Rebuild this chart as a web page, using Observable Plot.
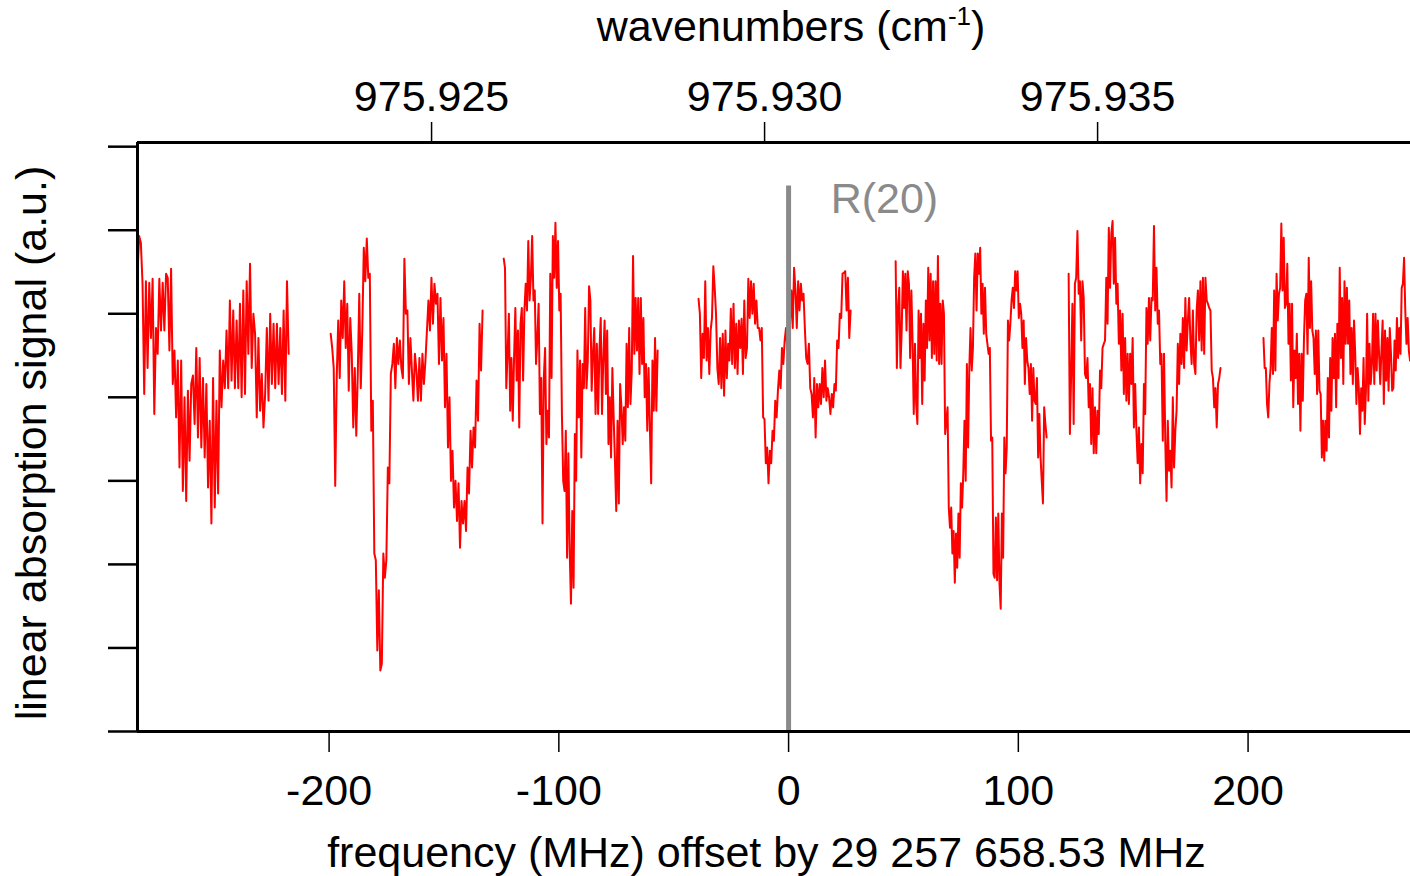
<!DOCTYPE html>
<html><head><meta charset="utf-8">
<script src="https://cdn.jsdelivr.net/npm/d3@7"></script>
<script src="https://cdn.jsdelivr.net/npm/@observablehq/plot@0.6"></script>
<style>html,body{margin:0;padding:0;background:#fff;}#chart{width:1410px;height:876px;}</style>
</head><body><div id="chart"></div>
<script>
// linear absorption signal (a.u.) per recorded scan segment, evenly sampled in frequency
const seg1 = [5.49,5.93,5.85,5.36,4.04,5.39,4.35,5.37,4.71,5.42,3.80,4.83,4.52,5.42,4.80,5.37,4.80,5.48,5.43,4.56,5.54,4.16,4.56,3.76,4.44,3.16,4.44,2.88,4.00,2.76,4.08,3.24,4.16,4.26,3.68,4.59,3.52,4.47,3.40,4.23,3.28,4.16,2.92,3.72,2.49,4.23,2.68,3.96,2.85,4.56,3.88,4.44,4.11,4.80,4.11,5.16,4.20,5.04,4.11,4.92,4.11,5.12,4.00,5.28,4.04,5.39,4.52,5.60,4.35,5.00,4.76,3.76,4.71,3.84,4.28,3.64,4.04,4.83,3.96,5.00,4.16,4.88,4.11,4.88,4.16,4.83,4.04,5.04,3.96,5.39,4.52];
const seg2 = [4.76,4.59,4.35,2.94,4.23,4.92,4.23,5.16,4.71,5.39,4.59,5.12,4.08,4.95,4.52,3.64,4.35,3.54,4.28,5.24,4.11,4.80,5.79,5.39,5.90,5.43,5.48,3.60,3.96,2.13,2.05,0.97,1.69,0.73,0.81,2.13,1.84,2.05,3.16,2.97,4.28,4.40,4.64,4.11,4.71,4.40,4.68,4.35,4.23,5.66,5.00,5.04,4.16,4.71,4.32,3.96,4.52,4.32,3.96,4.47,3.96,4.52,4.16,4.44,4.80,5.16,4.80,5.43,4.88,5.36,5.12,5.24,4.40,5.19,4.44,4.95,3.88,4.52,3.40,4.00,3.00,3.36,2.68,3.00,2.52,2.97,2.20,2.76,2.49,2.76,2.40,3.16,2.85,3.60,3.16,3.64,3.40,4.20,3.72,4.88,4.32,5.04];
const seg3 = [5.66,5.55,4.11,4.52,5.00,3.84,4.47,3.72,4.47,5.07,4.20,4.80,3.64,4.88,5.07,4.20,5.04,5.36,5.04,5.87,5.16,5.43,5.93,5.16,5.28,4.40,4.71,5.12,3.80,4.23,2.49,4.23,4.59,3.44,3.84,3.52,5.48,4.23,5.93,5.43,6.09,5.31,5.87,5.04,5.24,3.80,3.00,2.88,3.60,2.08,3.33,2.17,1.53,2.64,1.72,3.56,3.00,4.56,3.76,4.44,3.28,4.40,4.11,5.07,4.11,4.44,5.33,5.16,4.08,4.52,4.83,3.80,4.64,3.80,4.56,4.95,3.80,4.47,4.92,4.04,4.80,3.44,4.00,3.28,4.35,3.76,3.24,2.64,3.72,2.73,4.16,3.88,3.44,3.88,3.48,4.64,3.88,4.83,3.92,4.32,5.69,4.52,5.19,4.56,5.19,4.28,5.19,4.40,4.95,4.00,4.40,3.60,4.35,3.64,2.97,4.44,3.84,4.71,3.84,4.56];
const seg4 = [5.18,5.00,4.23,4.76,4.47,5.39,4.44,4.83,4.28,4.80,4.95,5.57,5.31,5.00,4.35,4.16,4.71,4.11,4.76,4.02,4.80,4.23,4.64,4.44,5.06,4.40,5.12,4.35,4.88,4.28,4.92,4.59,4.94,4.28,5.16,4.47,4.59,5.42,4.95,5.39,5.00,5.36,4.88,5.16,4.83,4.83,4.68,4.83,3.76,3.74,3.21,3.40,2.97,3.36,3.21,3.60,3.48,3.96,3.76,4.08,4.32,4.11,4.59,4.40,4.68,4.83,4.56,5.12,4.88,5.28,4.83,5.55,5.28,4.83,5.39,5.04,5.36,5.16,5.24,4.83,4.47,4.40,4.64,4.11,4.04,3.76,4.23,3.52,4.16,3.88,4.16,3.92,4.35,4.00,4.44,3.96,4.11,4.00,3.80,4.04,3.88,4.16,4.08,4.68,4.59,5.00,4.95,5.48,5.49,5.51,5.04,5.43,4.71,5.04];
const seg5 = [5.63,4.35,5.07,5.31,4.35,4.80,5.51,5.07,5.48,4.80,5.51,5.36,4.47,5.28,4.68,3.80,4.64,3.92,3.68,5.04,4.47,5.00,3.92,4.88,4.20,5.16,4.59,5.55,4.68,5.48,4.47,5.39,4.52,5.39,4.44,5.69,4.40,5.12,4.40,5.16,5.00,3.56,3.72,3.88,2.68,2.44,2.68,2.13,2.40,1.78,2.37,1.96,2.61,2.08,2.97,2.68,3.09,3.72,3.00,4.40,3.40,4.35,4.83,4.32,4.59,5.43,5.72,5.04,5.72,5.48,5.79,5.00,5.36,4.76,5.31,4.76,4.64,4.52,4.59,3.48,3.52,1.89,1.84,2.56,1.81,2.61,1.77,1.47,2.61,2.08,3.52,3.09,3.40,4.92,4.68,4.88,5.16,5.31,5.07,5.51,5.28,5.51,4.95,5.12,5.00,4.59,4.92,4.16,4.71,4.44,4.35,4.04,4.40,3.72,4.35,3.96,3.92,4.23,3.28,3.80,3.28,3.00,2.73,3.88,3.68,3.52];
const seg6 = [5.48,3.56,4.28,5.12,3.68,5.36,5.43,5.99,5.24,5.39,4.68,5.39,5.19,4.28,4.23,4.47,3.88,4.16,3.44,4.11,3.33,3.88,3.33,3.84,3.56,4.32,4.11,4.59,4.64,4.68,5.43,4.88,6.03,5.31,5.96,6.11,5.36,5.91,5.12,5.36,4.64,5.04,4.32,5.00,4.04,4.71,3.96,4.52,3.92,4.52,4.16,4.71,3.64,4.16,3.60,3.21,3.64,2.97,3.44,3.09,4.16,3.80,5.07,4.64,5.19,4.68,5.19,5.16,6.05,5.04,5.55,4.88,5.04,4.40,4.52,3.48,4.52,3.48,2.76,3.72,3.12,3.36,2.92,4.00,3.16,3.60,3.84,4.64,4.16,4.76,4.40,4.95,4.35,5.19,4.56,4.92,5.19,4.68,4.40,5.04,4.40,4.28,5.04,5.28,4.68,5.39,4.56,5.43,4.52,5.43,5.16,5.12,5.07,5.04,4.32,4.23,3.88,4.11,3.64,4.16,4.23,4.35];
const seg7 = [4.71,4.35,4.35,3.92,3.76,4.16,4.35,4.83,4.28,5.28,4.32,5.48,4.92,5.24,5.31,6.08,5.28,5.91,5.07,5.12,5.60,4.64,5.12,4.20,5.12,3.88,4.56,4.23,4.76,3.92,4.52,3.60,4.52,3.96,4.71,5.16,5.24,4.52,5.67,4.83,5.39,4.80,4.71,4.28,4.80,4.04,4.80,4.08,4.04,3.28,3.72,3.24,3.72,3.36,4.23,3.52,4.47,3.84,4.71,4.23,4.76,3.88,4.88,4.23,5.55,4.47,5.19,4.16,5.39,4.64,5.31,4.64,5.16,4.28,4.83,4.16,4.92,4.52,3.92,4.35,4.11,3.56,4.11,3.84,4.47,3.68,4.08,5.00,3.96,4.64,4.16,4.40,5.00,4.16,5.00,4.32,4.92,4.52,4.16,4.56,4.92,3.92,4.80,4.20,4.71,4.08,4.83,4.52,4.08,4.11,4.68,4.32,4.95,4.47,4.83,4.52,5.31,5.36,5.67,5.04,4.64,4.95,4.56,4.44];

// frequency range (MHz, offset) of each scan segment
const segStart = [-283.4, -199.3, -124.0, -39.2, 46.6, 121.9, 206.7];
const segEnd   = [-217.6, -133.2, -57.0, 27.0, 112.3, 188.0, 270.5];

const freqTicks = [-200, -100, 0, 100, 200];
const wnTicks = [975.925, 975.930, 975.935];
const wnTickLabels = ["975.925", "975.930", "975.935"];
const wnRef = [975.925, 975.935];      // wavenumber calibration points
const mhzRef = [-155.4, 134.5];        // matching offset frequencies (MHz)
const yTicks = [0, 1, 2, 3, 4, 5, 6, 7];
const lineName = "R(20)";
const lineFreq = 0;

const xTitle = "frequency (MHz) offset by 29 257 658.53 MHz";
const yTitle = "linear absorption signal (a.u.)";

const segments = [seg1, seg2, seg3, seg4, seg5, seg6, seg7];
const rows = segments.flatMap((vals, s) => vals.map((v, i) => ({
  f: segStart[s] + i * (segEnd[s] - segStart[s]) / (vals.length - 1), v, seg: s
})));
const wnToMHz = d3.scaleLinear().domain(wnRef).range(mhzRef);
const wnPos = wnTicks.map(wnToMHz);
const wnLabelAt = new Map(wnPos.map((p, i) => [p, wnTickLabels[i]]));

const xDomain = [-283.4, 270.7];
const yDomain = [0, 7.05];

const plot = Plot.plot({
  width: 1410, height: 876,
  marginLeft: 137, marginRight: 0, marginTop: 142, marginBottom: 145,
  style: {fontFamily: "'Liberation Sans', Arial, Helvetica, sans-serif", fontSize: "43px", color: "#000", background: "#fff", overflow: "visible"},
  x: {domain: xDomain, axis: null},
  y: {domain: yDomain, axis: null},
  marks: [
    Plot.line(rows, {x: "f", y: "v", z: "seg", stroke: "#ff0000", strokeWidth: 2}),
    Plot.ruleX([lineFreq], {y1: 0, y2: 6.53, stroke: "#8a8a8a", strokeWidth: 5}),
    Plot.text([lineName], {x: 18.3, y: 6.21, text: d => d, textAnchor: "start", lineAnchor: "bottom", fill: "#8a8a8a"}),
    Plot.ruleX([xDomain[0]], {stroke: "#000", strokeWidth: 3}),
    Plot.ruleY([yDomain[0]], {stroke: "#000", strokeWidth: 3}),
    Plot.ruleY([yDomain[1]], {stroke: "#000", strokeWidth: 3}),
    Plot.axisY(yTicks, {anchor: "left", tickSize: 29, tickFormat: () => "", strokeWidth: 2.5, label: null}),
    Plot.axisX(freqTicks, {anchor: "bottom", tickSize: 21, tickPadding: 22, tickFormat: d => String(d), strokeWidth: 1.5, label: null}),
    Plot.axisX(wnPos, {anchor: "top", tickSize: 21, tickPadding: 11, tickFormat: d => wnLabelAt.get(d), strokeWidth: 1.5, label: null}),
    Plot.text([xTitle], {frameAnchor: "bottom", text: d => d, dx: -7.5, dy: 135, lineAnchor: "bottom"}),
    Plot.text([yTitle], {frameAnchor: "left", text: d => d, rotate: -90, textAnchor: "middle", dx: -105, dy: 6, lineAnchor: "middle"})
  ]
});

const svg = d3.select(plot);
const t = svg.append("text").attr("x", 791).attr("y", 41).attr("text-anchor", "middle")
  .attr("font-size", 43).attr("fill", "#000");
t.append("tspan").text("wavenumbers (cm");
t.append("tspan").attr("font-size", 26).attr("dy", -16).text("-1");
t.append("tspan").attr("dy", 16).text(")");

document.getElementById("chart").appendChild(plot);
</script>
</body></html>
